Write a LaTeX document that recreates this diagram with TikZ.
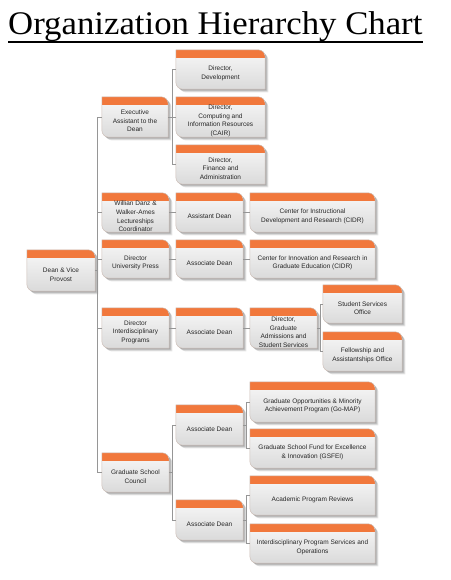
\documentclass[tikz,border=0pt]{standalone}
\usepackage{fontspec}
\setmainfont{Liberation Sans}
\newfontfamily\titlefont{Liberation Serif}
\usetikzlibrary{calc}
\pgfdeclarelayer{background}
\pgfsetlayers{background,main}
\definecolor{hdr}{RGB}{241,120,60}
\definecolor{bodytop}{RGB}{248,248,248}
\definecolor{bodybot}{RGB}{218,218,218}
\definecolor{edge}{RGB}{205,190,182}
\definecolor{conncol}{RGB}{150,150,150}
\tikzset{
  frame/.style={draw=none, inner sep=0pt, rectangle},
  boxtext/.style={inner sep=0pt, align=center, font=\fontsize{6.5}{8.6}\selectfont, text=black!85},
  conn/.style={draw=conncol, line width=0.6pt},
}
\newcommand\obox[6]{%
  \node[frame, minimum width=#4pt, minimum height=#5pt] (#1) at (#2,#3) {};
  \node[boxtext] (#1-t) at ([yshift=-4pt]#1.center) {#6};
}
\begin{document}
\begin{tikzpicture}[x=1pt,y=-1pt]
\useasboundingbox (0,0) rectangle (450,580);
% title
\node[inner sep=0pt, anchor=base west, font=\titlefont\fontsize{33}{36}\selectfont] (title) at (8,35) {\scalebox{1.053}[1]{Organization Hierarchy Chart}};
\draw[line width=1.7pt] ([yshift=-7pt]title.base west) -- ([yshift=-7pt]title.base east);

% boxes
\obox{dean}{61}{270.5}{68}{41}{Dean \& Vice\\Provost}
\obox{ea}{135}{117}{66}{40}{Executive\\Assistant to the\\Dean}
\obox{dev}{220.5}{69.5}{89}{39}{Director,\\Development}
\obox{cair}{220.5}{117}{89}{40}{Director,\\Computing and\\Information Resources\\(CAIR)}
\obox{fin}{220.5}{164.5}{89}{39}{Director,\\Finance and\\Administration}
\obox{danz}{135.5}{212.5}{67}{39}{Willian Danz \&\\Walker-Ames\\Lectureships\\Coordinator}
\obox{asd}{209.5}{212.5}{67}{39}{Assistant Dean}
\obox{cidr}{312.5}{212.5}{125}{39}{Center for Instructional\\Development and Research (CIDR)}
\obox{press}{135.5}{259}{67}{38}{Director\\University Press}
\obox{assoca}{209.5}{259}{67}{38}{Associate Dean}
\obox{cirge}{312.5}{259}{125}{38}{Center for Innovation and Research in\\Graduate Education (CIDR)}
\obox{idp}{135.5}{328}{67}{40}{Director\\Interdisciplinary\\Programs}
\obox{assocb}{209.5}{328}{67}{40}{Associate Dean}
\obox{gads}{283.5}{328}{67}{40}{Director,\\Graduate\\Admissions and\\Student Services}
\obox{sso}{362.5}{304}{79}{38}{Student Services\\Office}
\obox{fao}{362.5}{351.5}{79}{39}{Fellowship and\\Assistantships Office}
\obox{gsc}{135.5}{472.5}{67}{39}{Graduate School\\Council}
\obox{assocc}{209.5}{425}{67}{40}{Associate Dean}
\obox{gomap}{312.5}{402}{125}{40}{Graduate Opportunities \& Minority\\Achievement Program (Go-MAP)}
\obox{gsfei}{312.5}{448.5}{125}{39}{Graduate School Fund for Excellence\\\& Innovation (GSFEI)}
\obox{assocd}{209.5}{520}{67}{40}{Associate Dean}
\obox{apr}{312.5}{495.5}{125}{39}{Academic Program Reviews}
\obox{ips}{312.5}{543.5}{125}{39}{Interdisciplinary Program Services and\\Operations}

% box drawings
\begin{pgfonlayer}{background}
\foreach \n in {dean,ea,dev,cair,fin,danz,asd,cidr,press,assoca,cirge,idp,assocb,gads,sso,fao,gsc,assocc,gomap,gsfei,assocd,apr,ips}{
  \foreach \s/\o in {3.2/0.10, 2.2/0.14, 1.2/0.14}{
    \fill[black, opacity=\o, transform canvas={xshift=\s pt, yshift=-\s pt}]
      (\n.north west) -- ([xshift=-7pt]\n.north east)
      .. controls ([xshift=-3.14pt]\n.north east) and ([yshift=-3.14pt]\n.north east) .. ([yshift=-7pt]\n.north east)
      -- (\n.south east) -- ([xshift=7pt]\n.south west)
      .. controls ([xshift=3.14pt]\n.south west) and ([yshift=3.14pt]\n.south west) .. ([yshift=7pt]\n.south west)
      -- cycle;
  }
  \shade[top color=bodytop, bottom color=bodybot]
      (\n.north west) -- ([xshift=-7pt]\n.north east)
      .. controls ([xshift=-3.14pt]\n.north east) and ([yshift=-3.14pt]\n.north east) .. ([yshift=-7pt]\n.north east)
      -- (\n.south east) -- ([xshift=7pt]\n.south west)
      .. controls ([xshift=3.14pt]\n.south west) and ([yshift=3.14pt]\n.south west) .. ([yshift=7pt]\n.south west)
      -- cycle;
  \begin{scope}
    \clip (\n.north west) -- ([xshift=-7pt]\n.north east)
      .. controls ([xshift=-3.14pt]\n.north east) and ([yshift=-3.14pt]\n.north east) .. ([yshift=-7pt]\n.north east)
      -- (\n.south east) -- ([xshift=7pt]\n.south west)
      .. controls ([xshift=3.14pt]\n.south west) and ([yshift=3.14pt]\n.south west) .. ([yshift=7pt]\n.south west)
      -- cycle;
    \fill[hdr] ([yshift=1pt]\n.north west) rectangle ([yshift=-8pt]\n.north east);
  \end{scope}
  \draw[edge, line width=0.5pt]
      (\n.north west) -- ([xshift=-7pt]\n.north east)
      .. controls ([xshift=-3.14pt]\n.north east) and ([yshift=-3.14pt]\n.north east) .. ([yshift=-7pt]\n.north east)
      -- (\n.south east) -- ([xshift=7pt]\n.south west)
      .. controls ([xshift=3.14pt]\n.south west) and ([yshift=3.14pt]\n.south west) .. ([yshift=7pt]\n.south west)
      -- cycle;
}
\end{pgfonlayer}

% connectors
\coordinate (t1) at (97,0);
\coordinate (t2) at (172,0);
\coordinate (t3) at (246.5,0);
\coordinate (t4) at (320,0);
\draw[conn] (dean.east) -- (dean.east -| t1);
\draw[conn] (ea.west) -- (ea.west -| t1) -- (gsc.west -| t1) -- (gsc.west);
\foreach \n in {danz,press,idp}{\draw[conn] (\n.west) -- (\n.west -| t1);}
\draw[conn] (ea.east) -- (cair.west);
\draw[conn] (dev.west) -- (dev.west -| t2) -- (fin.west -| t2) -- (fin.west);
\draw[conn] (danz.east) -- (asd.west);
\draw[conn] (asd.east) -- (cidr.west);
\draw[conn] (press.east) -- (assoca.west);
\draw[conn] (assoca.east) -- (cirge.west);
\draw[conn] (idp.east) -- (assocb.west);
\draw[conn] (assocb.east) -- (gads.west);
\draw[conn] (gads.east) -- (gads.east -| t4);
\draw[conn] (sso.west) -- (sso.west -| t4) -- (fao.west -| t4) -- (fao.west);
\draw[conn] (gsc.east) -- (gsc.east -| t2);
\draw[conn] (assocc.west) -- (assocc.west -| t2) -- (assocd.west -| t2) -- (assocd.west);
\draw[conn] (assocc.east) -- (assocc.east -| t3);
\draw[conn] (gomap.west) -- (gomap.west -| t3) -- (gsfei.west -| t3) -- (gsfei.west);
\draw[conn] (assocd.east) -- (assocd.east -| t3);
\draw[conn] (apr.west) -- (apr.west -| t3) -- (ips.west -| t3) -- (ips.west);
\end{tikzpicture}
\end{document}
